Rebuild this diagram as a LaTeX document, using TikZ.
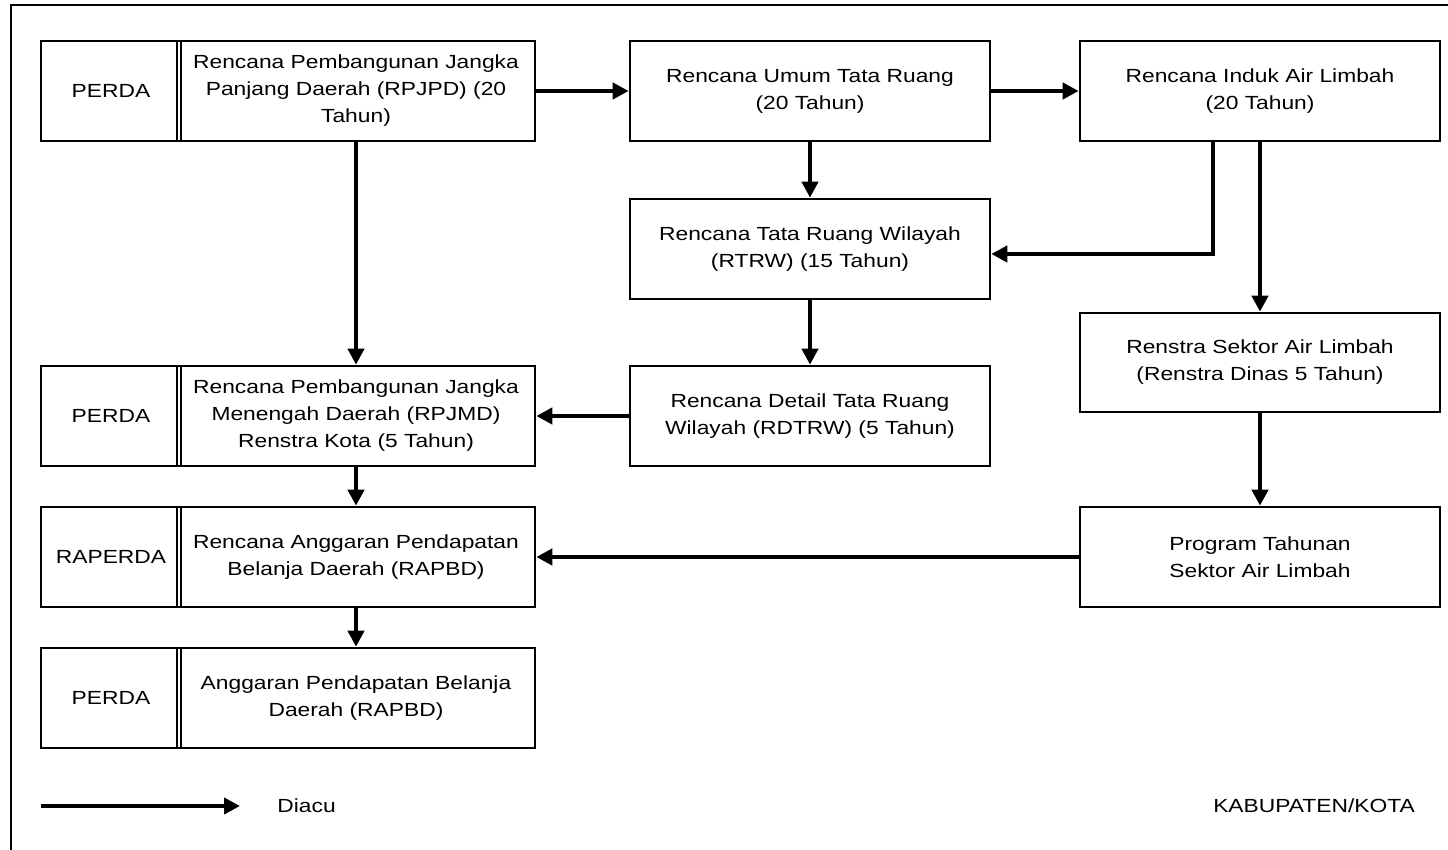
\documentclass[tikz,border=0pt]{standalone}
\usepackage{fontspec}
\setmainfont{Liberation Sans}[FakeStretch=1.2]
\usepackage{tikz}
\usetikzlibrary{arrows.meta}

\begin{document}
\begin{tikzpicture}[x=.5pt,y=-.5pt,
  box/.style={draw,line width=1.3pt,inner sep=0pt,align=center,minimum height=50pt,
    font=\fontsize{9.5}{13.5}\selectfont},
  tagbox/.style={box,minimum width=70pt},
  mainbox/.style={box,minimum width=179pt},
  planbox/.style={box,minimum width=180pt},
  link/.style={line width=2pt,-{Triangle[length=8pt,width=8pt]}},
  legendtext/.style={inner sep=0pt,font=\fontsize{9.5}{11.4}\selectfont}]
\path[use as bounding box] (0,0) rectangle (1448,850);
\draw[line width=1pt] (11,850) -- (11,5) -- (1448,5);

% left column
\node[tagbox] (tag1) at (111,91) {PERDA};
\node[mainbox] (rpjpd) at (356,91) {Rencana Pembangunan Jangka\\Panjang Daerah (RPJPD) (20\\Tahun)};
\node[tagbox] (tag2) at (111,416) {PERDA};
\node[mainbox] (rpjmd) at (356,416) {Rencana Pembangunan Jangka\\Menengah Daerah (RPJMD)\\Renstra Kota (5 Tahun)};
\node[tagbox] (tag3) at (111,557) {RAPERDA};
\node[mainbox] (rapbd) at (356,557) {Rencana Anggaran Pendapatan\\Belanja Daerah (RAPBD)};
\node[tagbox] (tag4) at (111,698) {PERDA};
\node[mainbox] (apbd) at (356,698) {Anggaran Pendapatan Belanja\\Daerah (RAPBD)};

% middle column
\node[planbox] (rutr) at (810,91) {Rencana Umum Tata Ruang\\(20 Tahun)};
\node[planbox] (rtrw) at (810,249) {Rencana Tata Ruang Wilayah\\(RTRW) (15 Tahun)};
\node[planbox] (rdtrw) at (810,416) {Rencana Detail Tata Ruang\\Wilayah (RDTRW) (5 Tahun)};

% right column
\node[planbox] (rial) at (1260,91) {Rencana Induk Air Limbah\\(20 Tahun)};
\node[planbox,minimum height=49.5pt] (renstra) at (1260,362.5) {Renstra Sektor Air Limbah\\(Renstra Dinas 5 Tahun)};
\node[planbox] (program) at (1260,557) {Program Tahunan\\Sektor Air Limbah};

% connectors
\draw[link] (rpjpd) -- (rutr);
\draw[link] (rutr) -- (rial);
\draw[link] (rutr) -- (rtrw);
\draw[link] ([xshift=-23.5pt]rial.south) |- ([yshift=-2.5pt]rtrw.east);
\draw[link] (rial) -- (renstra);
\draw[link] (rtrw) -- (rdtrw);
\draw[link] (rdtrw) -- (rpjmd);
\draw[link] (rpjpd) -- (rpjmd);
\draw[link] (rpjmd) -- (rapbd);
\draw[link] (renstra) -- (program);
\draw[link] (program) -- (rapbd);
\draw[link] (rapbd) -- (apbd);

% legend
\coordinate (legstart) at (41,806);
\coordinate (legend) at (240,806);
\draw[link] (legstart) -- (legend);
\node[legendtext,anchor=west] (diacu) at (277,806) {Diacu};
\node[legendtext] (kabkota) at (1314,806) {KABUPATEN/KOTA};
\end{tikzpicture}
\end{document}
